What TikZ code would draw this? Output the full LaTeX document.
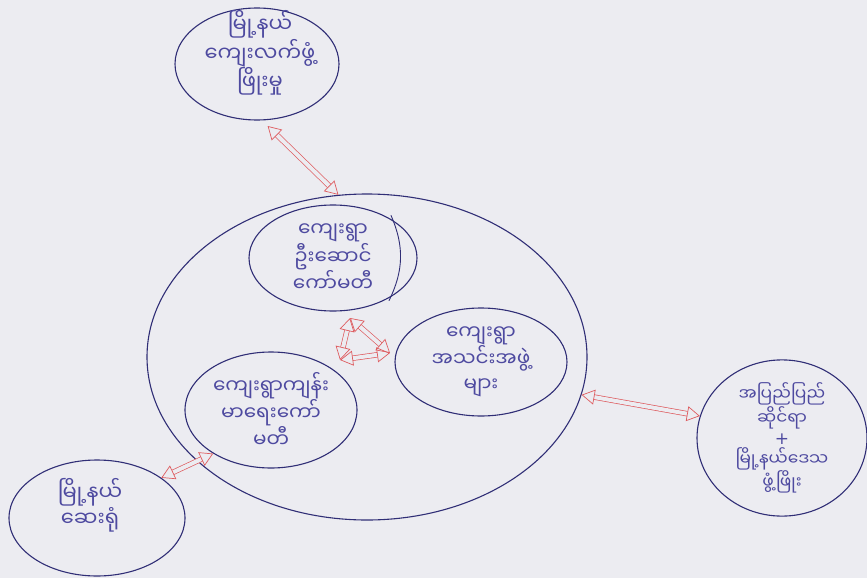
\documentclass[tikz,border=0pt]{standalone}
\usepackage{fontspec}
\newfontfamily\mmfont[Script=Myanmar]{Noto Sans Myanmar UI}
\newfontfamily\symfont{DejaVu Sans}
\usetikzlibrary{shapes,arrows.meta}
\definecolor{paper}{RGB}{236,236,241}
\definecolor{ink}{RGB}{48,46,118}
\definecolor{pen}{RGB}{78,74,160}
\definecolor{redpen}{RGB}{222,92,96}

\begin{document}
\begin{tikzpicture}[x=1pt,y=-1pt,
  blob/.style={shape=ellipse,draw=ink,line width=1.1pt,inner sep=0pt,align=center,text=pen,font=\mmfont\fontsize{20}{25}\selectfont},
  link/.style={draw=redpen,line width=0.7pt,double=paper,double distance=4pt,{Triangle[open,length=13pt,width=15pt]}-{Triangle[open,length=13pt,width=15pt]}}]
\fill[paper] (0,0) rectangle (867,578);
\useasboundingbox (0,0) rectangle (867,578);

\node[blob,minimum width=440pt,minimum height=326pt] (1) at (367,357) {};
\node[blob,minimum width=164pt,minimum height=112pt] (0) at (257,64) {};
\node[pen,align=center,font=\mmfont\fontsize{21}{26}\selectfont] (0t) at (260,53) {မြို့နယ်\\ကျေးလက်ဖွံ့\\ဖြိုးမှု};
\node[blob,minimum width=168pt,minimum height=106pt] (2) at (333,258) {ကျေးရွာ\\ဦးဆောင်\\ကော်မတီ};
\node[blob,minimum width=172pt,minimum height=108pt] (3) at (481,362) {ကျေးရွာ\\အသင်းအဖွဲ့\\များ};
\node[blob,minimum width=172pt,minimum height=116pt] (4) at (271,410) {ကျေးရွာကျန်း\\မာရေးကော်\\မတီ};
\node[blob,minimum width=170pt,minimum height=120pt,font=\mmfont\fontsize{17}{20.5}\selectfont] (5) at (782,438) {အပြည်ပြည်\\ဆိုင်ရာ\\{\symfont +}\\မြို့နယ်ဒေသ\\ဖွံ့ဖြိုး};
\node[blob,minimum width=176pt,minimum height=116pt] (6) at (97,518) {};
\node[pen,align=center,font=\mmfont\fontsize{21}{26}\selectfont] (6t) at (90,505) {မြို့နယ်\\ဆေးရုံ};

% second pencil stroke on the right of (2)
\draw[ink,line width=0.9pt] ([xshift=7pt]2.40) to[bend left=25] ([xshift=5pt]2.-40);

\coordinate (a) at (350,318);
\coordinate (b) at (390,353);
\coordinate (c) at (340,360);

\draw [link,shorten <=8pt] (0.-85) -- (1.100);
\draw [link] (1.-10) -- (5.165);
\draw [link] (4.-143) -- (6.32);
\draw [link] (a) -- (b);
\draw [link] (b) -- (c);
\draw [link] (c) -- (a);
\end{tikzpicture}
\end{document}
